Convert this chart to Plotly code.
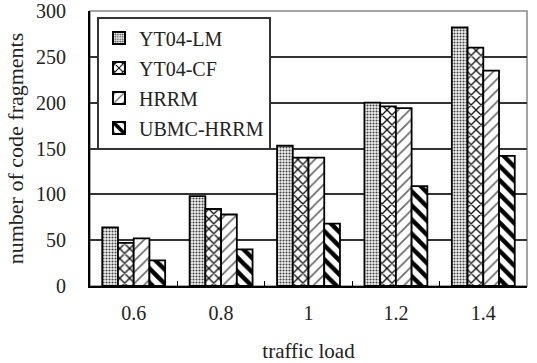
import plotly.graph_objects as go

categories = ["0.6", "0.8", "1", "1.2", "1.4"]
series_names = ["YT04-LM", "YT04-CF", "HRRM", "UBMC-HRRM"]
yt04_lm = [64, 98, 153, 200, 282]
yt04_cf = [47, 84, 140, 196, 260]
hrrm = [52, 78, 140, 194, 235]
ubmc_hrrm = [28, 40, 68, 109, 142]
y_ticks = [0, 50, 100, 150, 200, 250, 300]

FONT = "Liberation Serif"
values = [yt04_lm, yt04_cf, hrrm, ubmc_hrrm]
patterns = [
    dict(shape=".", fgcolor="#444444", bgcolor="#f4f4f4", size=3, solidity=0.4, fillmode="replace"),
    dict(shape="x", fgcolor="#111111", bgcolor="white", size=7, solidity=0.35, fillmode="replace"),
    dict(shape="/", fgcolor="#666666", bgcolor="white", size=8, solidity=0.2, fillmode="replace"),
    dict(shape="\\", fgcolor="#000000", bgcolor="white", size=10, solidity=0.45, fillmode="replace"),
]

fig = go.Figure()
for name, vals, pat in zip(series_names, values, patterns):
    fig.add_trace(go.Bar(
        x=categories, y=vals, name=name, legendgroup=name,
        marker=dict(color="white", pattern=pat, line=dict(color="black", width=1.8)),
    ))

fig.update_layout(
    width=537, height=363,
    margin=dict(l=90, r=10, t=11, b=77, autoexpand=False),
    paper_bgcolor="white", plot_bgcolor="white",
    barmode="group", bargap=0.28, bargroupgap=0,
    font=dict(family=FONT, size=20, color="#222222"),
    showlegend=True,
    legend=dict(
        x=0.016, y=0.98, xanchor="left", yanchor="top",
        bgcolor="white", bordercolor="#333333", borderwidth=2,
        font=dict(family=FONT, size=20, color="#222222"),
        tracegroupgap=1, itemsizing="constant",
    ),
    xaxis=dict(
        type="category", showline=True, linecolor="black", linewidth=2,
        ticks="inside", tickson="boundaries", ticklen=5, tickcolor="black",
        showgrid=False, ticklabelstandoff=8, automargin=False,
        title=dict(text="traffic load", font=dict(family=FONT, size=21), standoff=22),
        tickfont=dict(family=FONT, size=20),
    ),
    yaxis=dict(
        range=[0, 300], tickvals=y_ticks, showline=True, linecolor="black", linewidth=2,
        showgrid=True, gridcolor="#333333", gridwidth=1.5, zeroline=False,
        ticks="", ticklabelstandoff=18, ticklabeloverflow="allow", automargin=False,
        title=dict(text="number of code fragments", font=dict(family=FONT, size=22), standoff=6),
        tickfont=dict(family=FONT, size=20),
    ),
    shapes=[dict(type="rect", xref="paper", yref="paper", x0=0, x1=1, y0=0, y1=1,
                 line=dict(color="#888888", width=1.5), layer="below")],
)

fig.write_html("out.html")
